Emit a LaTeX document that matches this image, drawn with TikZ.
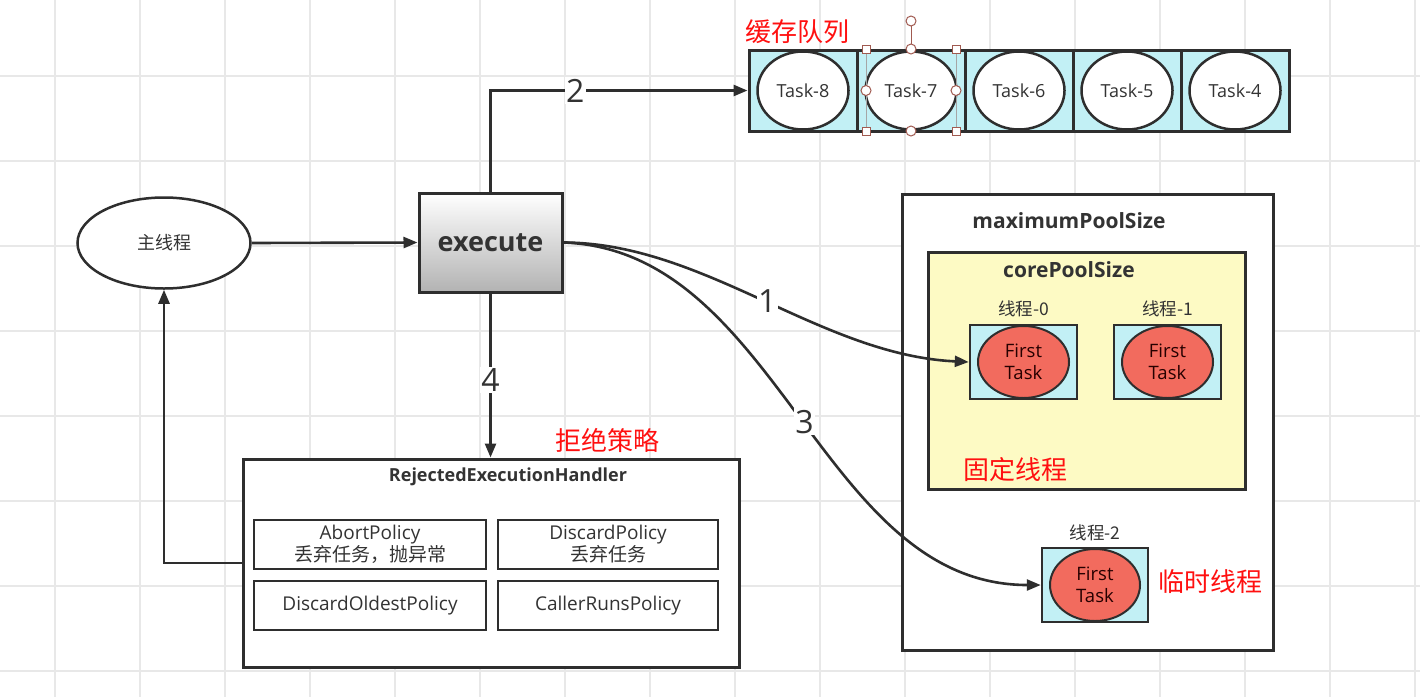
\documentclass[tikz,border=0pt]{standalone}
\usepackage{fontspec}
\setmainfont{Open Sans}
\newfontfamily\cjk{Noto Sans CJK SC}
\usetikzlibrary{arrows.meta,shapes.geometric}
\definecolor{ln}{HTML}{2E2E2E}
\definecolor{cyanf}{HTML}{C2F0F5}
\definecolor{redf}{HTML}{F26B5E}
\definecolor{yel}{HTML}{FDFAC4}
\definecolor{gridc}{HTML}{E8E8E8}
\definecolor{txt}{HTML}{333333}
\definecolor{hdl}{HTML}{A05A50}
\definecolor{redt}{HTML}{FF1010}
\tikzset{
  conn/.style={draw=ln, line width=2.6, -{Triangle[length=14,width=11]}},
  num/.style={fill=white, inner sep=1.5, text=txt, font=\fontsize{32}{32}\selectfont},
  cell/.style={rectangle, draw=ln, line width=3, fill=cyanf, minimum width=108, minimum height=81, inner sep=0},
  task/.style={ellipse, draw=ln, line width=2.5, fill=white, minimum width=91, minimum height=78, inner sep=0, text=txt, font=\fontsize{18}{18}\selectfont},
  thbox/.style={rectangle, draw=ln, line width=2.5, fill=cyanf, minimum width=107, minimum height=74, inner sep=0},
  thell/.style={ellipse, draw=ln, line width=2, fill=redf, minimum width=91, minimum height=72, inner sep=0, align=center, text=black!75!red!60!black, font=\fontsize{18.5}{22}\selectfont},
  thlab/.style={text=txt, font=\cjk\fontsize{17.5}{17.5}\selectfont},
  redlab/.style={text=redt, font=\cjk\fontsize{26}{26}\selectfont},
  ttl/.style={text=txt, font=\bfseries\fontsize{21}{21}\selectfont},
  policy/.style={rectangle, draw=ln, line width=2.5, fill=white, minimum height=49, inner sep=0, align=center, text=txt, font=\fontsize{19}{22}\selectfont},
  hsq/.style={rectangle, draw=hdl, fill=white, line width=1, minimum size=8, inner sep=0},
  hci/.style={circle, draw=hdl, fill=white, line width=1, minimum size=10, inner sep=0},
}
\begin{document}
\begin{tikzpicture}[x=1pt,y=-1pt]
\useasboundingbox (0,0) rectangle (1420,697);
\fill[white] (0,0) rectangle (1420,697);
% grid
\foreach \gx in {55,140,...,1415} \draw[gridc, line width=1.5] (\gx,0) -- (\gx,697);
\foreach \gy in {76,161,...,671} \draw[gridc, line width=1.5] (0,\gy) -- (1420,\gy);

% main thread
\node[ellipse, draw=ln, line width=2.5, fill=white, minimum width=173, minimum height=91, inner sep=0, text=txt, font=\cjk\fontsize{18}{18}\selectfont] (main) at (164,243) {主线程};
% execute
\node[rectangle, draw=ln, line width=3, top color=white, bottom color=black!30, minimum width=143, minimum height=99, inner sep=0, text=black!80, font=\bfseries\fontsize{27}{27}\selectfont] (exec) at (490.5,242.5) {execute};

% queue
\node[cell] (c8) at (803,90.5) {};
\node[cell] (c7) at (911,90.5) {};
\node[cell] (c6) at (1019,90.5) {};
\node[cell] (c5) at (1127,90.5) {};
\node[cell] (c4) at (1235,90.5) {};
\node[task] (t8) at (c8) {Task-8};
\node[task] (t7) at (c7) {Task-7};
\node[task] (t6) at (c6) {Task-6};
\node[task] (t5) at (c5) {Task-5};
\node[task] (t4) at (c4) {Task-4};
\node[redlab] (lq) at (797,32) {缓存队列};
% selection handles on Task-7
\draw[black!35, line width=1] (866,49) -- (866,131) (956,49) -- (956,131);
\draw[hdl, line width=1] (911,22) -- (911,49);
\node[hci] (hr) at (911,21) {};
\node[hsq] at (866,49) {};
\node[hsq] at (956,49) {};
\node[hsq] at (866,131) {};
\node[hsq] at (956,131) {};
\node[hci] at (911,49) {};
\node[hci] at (911,131) {};
\node[hci] at (866,90.5) {};
\node[hci] at (956,90.5) {};

% pool boxes
\node[rectangle, draw=ln, line width=3, fill=white, minimum width=371, minimum height=456, inner sep=0] (maxp) at (1087.5,422) {};
\node[ttl] (maxl) at (1069,221) {maximumPoolSize};
\node[rectangle, draw=ln, line width=3, fill=yel, minimum width=317, minimum height=237, inner sep=0] (core) at (1086.5,370.5) {};
\node[ttl] (corel) at (1069,270) {corePoolSize};
\node[thlab] (l0) at (1023.5,309) {线程-0};
\node[thlab] (l1) at (1167.5,309) {线程-1};
\node[thbox] (b0) at (1023.5,362) {};
\node[thell] (e0) at (b0) {First\\Task};
\node[thbox] (b1) at (1167.5,362) {};
\node[thell] (e1) at (b1) {First\\Task};
\node[redlab] (lfix) at (1015,470) {固定线程};
\node[thlab] (l2) at (1095,533) {线程-2};
\node[thbox, minimum width=106] (b2) at (1095,585) {};
\node[thell, minimum width=90] (e2) at (b2) {First\\Task};
\node[redlab] (ltmp) at (1210,582) {临时线程};

% handler
\node[rectangle, draw=ln, line width=3, fill=white, minimum width=496, minimum height=208, inner sep=0] (hand) at (491,563) {};
\node[text=txt, font=\bfseries\fontsize{18}{18}\selectfont] (handl) at (508,477) {RejectedExecutionHandler};
\node[redlab] (lrej) at (607,440) {拒绝策略};
\node[policy, minimum width=232] (p1) at (370,544.5) {AbortPolicy\\{\cjk 丢弃任务，抛异常}};
\node[policy, minimum width=220] (p2) at (608,544.5) {DiscardPolicy\\{\cjk 丢弃任务}};
\node[policy, minimum width=232] (p3) at (370,605.5) {DiscardOldestPolicy};
\node[policy, minimum width=220] (p4) at (608,605.5) {CallerRunsPolicy};

% connectors
\draw[conn] (main.east) -- (exec.west);
\draw[conn] (exec.north) |- (c8.west) node[pos=0.665, num] {2};
\draw[conn] (exec.east) .. controls (705,243) and (820,355) .. (b0.west) node[pos=0.51, num] {1};
\draw[conn] (exec.east) .. controls (780,250) and (820,585) .. (b2.west) node[pos=0.51, num] {3};
\draw[conn] (exec.south) -- (exec.south |- hand.north) node[pos=0.53, num] {4};
\draw[conn] (hand.west) -| (main.south);
\end{tikzpicture}
\end{document}
